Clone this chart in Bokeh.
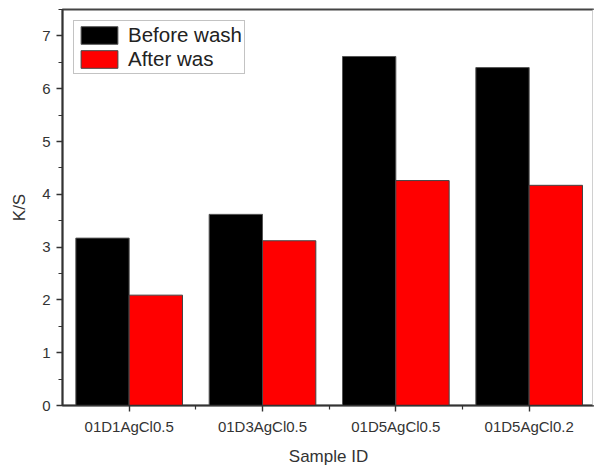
from bokeh.plotting import figure
from bokeh.models import Range1d, FixedTicker, ColumnDataSource, Legend, LegendItem, Span
from bokeh.transform import dodge
from bokeh.embed import file_html
from bokeh.resources import INLINE

samples = ["01D1AgCl0.5", "01D3AgCl0.5", "01D5AgCl0.5", "01D5AgCl0.2"]
before_wash = [3.17, 3.62, 6.61, 6.40]
after_wash = [2.09, 3.12, 4.26, 4.17]
series_names = ["Before wash", "After was"]
y_ticks = [0, 1, 2, 3, 4, 5, 6, 7]

xpos = list(range(len(samples)))
src = ColumnDataSource(dict(x=xpos, before=before_wash, after=after_wash))

FONT = "Liberation Sans"
p = figure(frame_width=532, frame_height=396, output_backend="svg", toolbar_location=None,
           x_range=Range1d(-0.5, 3.49), y_range=Range1d(0, 7.5),
           min_border_left=62, min_border_right=0, min_border_top=9, min_border_bottom=0)
p.outline_line_color = "#444444"
p.outline_line_width = 2
p.xgrid.visible = False
p.ygrid.visible = False
p.background_fill_color = "white"
p.border_fill_color = "white"

r1 = p.vbar(x=dodge("x", -0.2), top="before", width=0.4, source=src,
            fill_color="black", line_color="#555555", line_width=1)
r2 = p.vbar(x=dodge("x", 0.2), top="after", width=0.4, source=src,
            fill_color="#ff0000", line_color="#444444", line_width=1)

axc = "#333333"
xa = p.xaxis[0]
xa.ticker = FixedTicker(ticks=xpos, minor_ticks=[0.5, 1.5, 2.5])
xa.major_label_overrides = {i: s for i, s in enumerate(samples)}
xa.axis_label = "Sample ID"
for ax in [p.xaxis[0], p.yaxis[0]]:
    ax.axis_line_color = axc
    ax.axis_line_width = 1.6
    ax.major_tick_line_color = axc
    ax.minor_tick_line_color = axc
    ax.major_tick_line_width = 1.4
    ax.minor_tick_line_width = 1.2
    ax.major_tick_in = 0
    ax.major_tick_out = 6
    ax.minor_tick_in = 0
    ax.minor_tick_out = 4
    ax.major_label_text_font = FONT
    ax.major_label_text_font_size = "15px"
    ax.major_label_text_color = "#333333"
    ax.axis_label_text_font = FONT
    ax.axis_label_text_font_size = "17px"
    ax.axis_label_text_font_style = "normal"
    ax.axis_label_text_color = "#333333"
xa.major_label_standoff = 6
xa.axis_label_standoff = 9

ya = p.yaxis[0]
ya.ticker = FixedTicker(ticks=y_ticks, minor_ticks=[v + 0.5 for v in y_ticks])
ya.axis_label = "K/S"
ya.major_label_standoff = 6
ya.axis_label_standoff = 10

# the frame's right edge lies outside the cropped reference: hide it
p.add_layout(Span(location=3.49, dimension="height", line_color="white", line_width=4,
                  level="overlay"))

legend = Legend(items=[LegendItem(label=series_names[0], renderers=[r1]),
                       LegendItem(label=series_names[1], renderers=[r2])],
                location="top_left")
legend.margin = 11
legend.padding = 2
legend.spacing = 0
legend.glyph_width = 46
legend.glyph_height = 22
legend.label_height = 22
legend.label_standoff = 6
legend.label_text_font = FONT
legend.label_text_font_size = "20.5px"
legend.label_text_color = "#222222"
legend.border_line_color = "#888888"
legend.border_line_width = 1
p.add_layout(legend)

open("out.html", "w").write(file_html(p, INLINE))
